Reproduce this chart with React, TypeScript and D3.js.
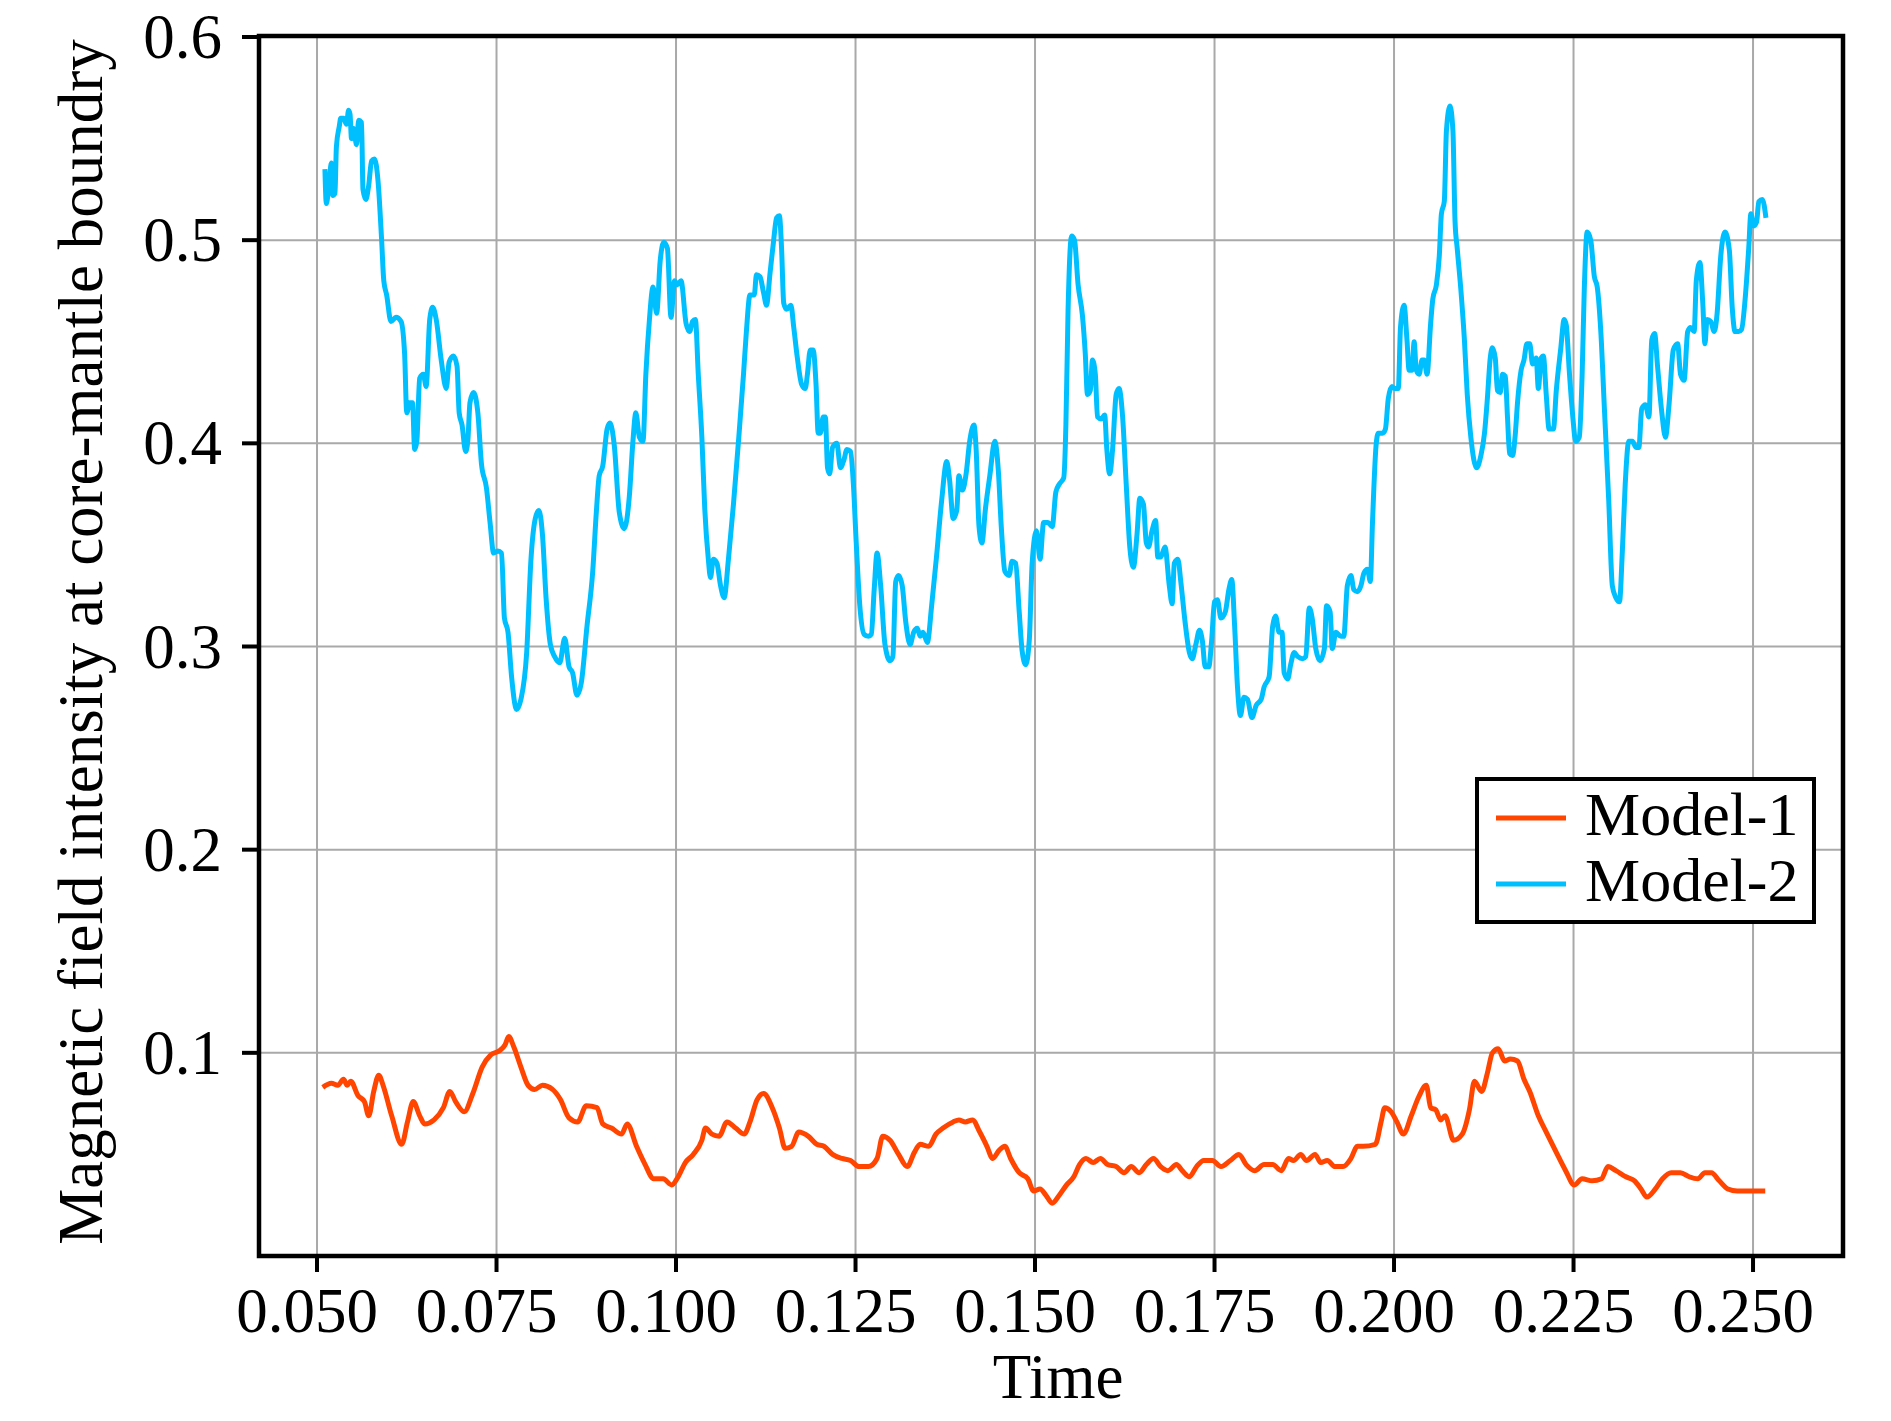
import React from 'react'
import * as d3 from 'd3'

// Model-1 (orange) time / intensity samples
const model1Time = [
  0.0508, 0.0520, 0.0529, 0.0537, 0.0542, 0.0547, 0.0557, 0.0566, 0.0572, 0.0579, 0.0586, 0.0592,
  0.0604, 0.0618, 0.0626, 0.0634, 0.0643, 0.0650, 0.0663, 0.0676, 0.0685, 0.0693, 0.0705, 0.0717,
  0.0730, 0.0742, 0.0754, 0.0762, 0.0767, 0.0774, 0.0784, 0.0794, 0.0803, 0.0814, 0.0828, 0.0839,
  0.0851, 0.0863, 0.0875, 0.0890, 0.0898, 0.0910, 0.0924, 0.0932, 0.0945, 0.0957, 0.0969, 0.0982,
  0.0994, 0.1003, 0.1013, 0.1024, 0.1036, 0.1041, 0.1050, 0.1060, 0.1071, 0.1083, 0.1095, 0.1103,
  0.1113, 0.1122, 0.1134, 0.1144, 0.1152, 0.1161, 0.1171, 0.1184, 0.1196, 0.1206, 0.1218, 0.1231,
  0.1243, 0.1255, 0.1268, 0.1280, 0.1288, 0.1298, 0.1310, 0.1322, 0.1332, 0.1340, 0.1352, 0.1362,
  0.1372, 0.1386, 0.1394, 0.1403, 0.1413, 0.1423, 0.1433, 0.1441, 0.1450, 0.1458, 0.1466, 0.1478,
  0.1490, 0.1498, 0.1507, 0.1515, 0.1524, 0.1534, 0.1544, 0.1554, 0.1562, 0.1571, 0.1581, 0.1591,
  0.1601, 0.1613, 0.1624, 0.1634, 0.1645, 0.1655, 0.1665, 0.1675, 0.1685, 0.1697, 0.1705, 0.1715,
  0.1725, 0.1735, 0.1747, 0.1759, 0.1772, 0.1784, 0.1794, 0.1806, 0.1819, 0.1831, 0.1843, 0.1853,
  0.1860, 0.1870, 0.1878, 0.1890, 0.1898, 0.1907, 0.1918, 0.1929, 0.1940, 0.1949, 0.1957, 0.1974,
  0.1982, 0.1987, 0.1996, 0.2004, 0.2013, 0.2024, 0.2034, 0.2045, 0.2051, 0.2058, 0.2065, 0.2071,
  0.2083, 0.2095, 0.2105, 0.2112, 0.2122, 0.2130, 0.2137, 0.2145, 0.2154, 0.2162, 0.2172, 0.2181,
  0.2189, 0.2201, 0.2212, 0.2226, 0.2239, 0.2251, 0.2262, 0.2276, 0.2289, 0.2298, 0.2309, 0.2323,
  0.2335, 0.2344, 0.2352, 0.2364, 0.2374, 0.2386, 0.2399, 0.2411, 0.2423, 0.2433, 0.2442, 0.2453,
  0.2465, 0.2478, 0.2495, 0.2508, 0.2517
]
const model1Values = [
  0.083, 0.085, 0.084, 0.087, 0.084, 0.086, 0.079, 0.076, 0.069, 0.081, 0.089, 0.084,
  0.069, 0.055, 0.066, 0.076, 0.069, 0.065, 0.067, 0.073, 0.081, 0.076, 0.071, 0.080,
  0.093, 0.099, 0.101, 0.104, 0.108, 0.103, 0.093, 0.084, 0.082, 0.084, 0.082, 0.077,
  0.068, 0.066, 0.074, 0.073, 0.065, 0.063, 0.060, 0.065, 0.054, 0.045, 0.038, 0.038,
  0.035, 0.039, 0.046, 0.050, 0.057, 0.063, 0.060, 0.059, 0.066, 0.063, 0.060, 0.066,
  0.077, 0.080, 0.073, 0.063, 0.053, 0.054, 0.061, 0.059, 0.055, 0.054, 0.050, 0.048,
  0.047, 0.044, 0.044, 0.048, 0.059, 0.057, 0.050, 0.044, 0.051, 0.055, 0.054, 0.060,
  0.063, 0.066, 0.067, 0.066, 0.067, 0.061, 0.054, 0.048, 0.052, 0.054, 0.048, 0.041,
  0.038, 0.032, 0.033, 0.030, 0.026, 0.030, 0.035, 0.039, 0.045, 0.048, 0.046, 0.048,
  0.045, 0.044, 0.041, 0.044, 0.041, 0.045, 0.048, 0.044, 0.042, 0.045, 0.042, 0.039,
  0.044, 0.047, 0.047, 0.044, 0.047, 0.050, 0.045, 0.042, 0.045, 0.045, 0.042, 0.048,
  0.047, 0.050, 0.047, 0.050, 0.046, 0.047, 0.044, 0.044, 0.048, 0.054, 0.054, 0.055,
  0.066, 0.073, 0.071, 0.066, 0.060, 0.069, 0.078, 0.084, 0.073, 0.072, 0.067, 0.069,
  0.057, 0.060, 0.072, 0.086, 0.081, 0.090, 0.100, 0.102, 0.096, 0.097, 0.096, 0.087,
  0.081, 0.069, 0.061, 0.051, 0.042, 0.035, 0.038, 0.037, 0.038, 0.044, 0.042, 0.039,
  0.037, 0.033, 0.029, 0.033, 0.038, 0.041, 0.041, 0.039, 0.038, 0.041, 0.041, 0.037,
  0.033, 0.032, 0.032, 0.032, 0.032
]

// Model-2 (blue) time / intensity samples
const model2Time = [
  0.0511, 0.0513, 0.0517, 0.0520, 0.0522, 0.0525, 0.0527, 0.0531, 0.0533, 0.0537, 0.0541, 0.0544,
  0.0546, 0.0548, 0.0551, 0.0555, 0.0558, 0.0562, 0.0564, 0.0568, 0.0572, 0.0576, 0.0580, 0.0585,
  0.0590, 0.0593, 0.0597, 0.0603, 0.0610, 0.0617, 0.0622, 0.0625, 0.0629, 0.0633, 0.0636, 0.0639,
  0.0643, 0.0648, 0.0652, 0.0657, 0.0661, 0.0666, 0.0673, 0.0680, 0.0684, 0.0690, 0.0695, 0.0698,
  0.0702, 0.0707, 0.0710, 0.0713, 0.0718, 0.0724, 0.0729, 0.0736, 0.0741, 0.0746, 0.0752, 0.0757,
  0.0761, 0.0766, 0.0771, 0.0778, 0.0784, 0.0792, 0.0798, 0.0804, 0.0809, 0.0814, 0.0819, 0.0825,
  0.0831, 0.0838, 0.0845, 0.0851, 0.0856, 0.0862, 0.0868, 0.0876, 0.0884, 0.0889, 0.0893, 0.0898,
  0.0904, 0.0908, 0.0914, 0.0921, 0.0928, 0.0935, 0.0940, 0.0944, 0.0949, 0.0954, 0.0958, 0.0963,
  0.0968, 0.0973, 0.0978, 0.0983, 0.0988, 0.0993, 0.0998, 0.1002, 0.1007, 0.1014, 0.1019, 0.1023,
  0.1027, 0.1031, 0.1036, 0.1040, 0.1045, 0.1048, 0.1052, 0.1057, 0.1062, 0.1067, 0.1073, 0.1080,
  0.1087, 0.1094, 0.1098, 0.1103, 0.1109, 0.1112, 0.1117, 0.1122, 0.1126, 0.1131, 0.1136, 0.1140,
  0.1144, 0.1147, 0.1150, 0.1154, 0.1160, 0.1164, 0.1169, 0.1175, 0.1180, 0.1183, 0.1187, 0.1191,
  0.1195, 0.1198, 0.1201, 0.1205, 0.1208, 0.1211, 0.1214, 0.1218, 0.1224, 0.1229, 0.1234, 0.1238,
  0.1243, 0.1247, 0.1251, 0.1256, 0.1262, 0.1268, 0.1272, 0.1276, 0.1280, 0.1285, 0.1291, 0.1298,
  0.1302, 0.1306, 0.1310, 0.1315, 0.1320, 0.1326, 0.1331, 0.1336, 0.1340, 0.1344, 0.1350, 0.1356,
  0.1363, 0.1370, 0.1377, 0.1381, 0.1386, 0.1391, 0.1394, 0.1399, 0.1404, 0.1409, 0.1415, 0.1418,
  0.1422, 0.1426, 0.1431, 0.1437, 0.1444, 0.1449, 0.1453, 0.1458, 0.1464, 0.1468, 0.1473, 0.1478,
  0.1482, 0.1487, 0.1492, 0.1496, 0.1502, 0.1507, 0.1512, 0.1518, 0.1524, 0.1529, 0.1534, 0.1540,
  0.1543, 0.1546, 0.1551, 0.1555, 0.1560, 0.1566, 0.1570, 0.1573, 0.1577, 0.1580, 0.1584, 0.1587,
  0.1592, 0.1597, 0.1600, 0.1604, 0.1608, 0.1613, 0.1617, 0.1622, 0.1627, 0.1632, 0.1637, 0.1642,
  0.1646, 0.1651, 0.1655, 0.1658, 0.1663, 0.1668, 0.1671, 0.1675, 0.1681, 0.1687, 0.1691, 0.1694,
  0.1699, 0.1703, 0.1709, 0.1715, 0.1719, 0.1724, 0.1729, 0.1733, 0.1737, 0.1742, 0.1746, 0.1750,
  0.1754, 0.1759, 0.1765, 0.1770, 0.1774, 0.1778, 0.1782, 0.1786, 0.1791, 0.1796, 0.1802, 0.1808,
  0.1815, 0.1819, 0.1826, 0.1831, 0.1835, 0.1840, 0.1844, 0.1847, 0.1852, 0.1856, 0.1861, 0.1866,
  0.1873, 0.1877, 0.1882, 0.1886, 0.1891, 0.1897, 0.1903, 0.1906, 0.1911, 0.1914, 0.1919, 0.1926,
  0.1930, 0.1935, 0.1940, 0.1944, 0.1949, 0.1954, 0.1958, 0.1963, 0.1967, 0.1970, 0.1975, 0.1978,
  0.1984, 0.1988, 0.1992, 0.1997, 0.2001, 0.2006, 0.2009, 0.2014, 0.2018, 0.2021, 0.2025, 0.2028,
  0.2031, 0.2035, 0.2039, 0.2042, 0.2046, 0.2051, 0.2054, 0.2059, 0.2063, 0.2066, 0.2070, 0.2073,
  0.2078, 0.2082, 0.2085, 0.2088, 0.2093, 0.2098, 0.2102, 0.2107, 0.2115, 0.2121, 0.2126, 0.2130,
  0.2134, 0.2137, 0.2141, 0.2144, 0.2148, 0.2151, 0.2155, 0.2158, 0.2161, 0.2165, 0.2169, 0.2172,
  0.2177, 0.2181, 0.2185, 0.2189, 0.2193, 0.2198, 0.2201, 0.2205, 0.2208, 0.2212, 0.2216, 0.2222,
  0.2226, 0.2232, 0.2237, 0.2240, 0.2244, 0.2249, 0.2253, 0.2258, 0.2262, 0.2265, 0.2269, 0.2274,
  0.2279, 0.2283, 0.2288, 0.2293, 0.2299, 0.2304, 0.2309, 0.2314, 0.2318, 0.2322, 0.2327, 0.2332,
  0.2337, 0.2341, 0.2345, 0.2350, 0.2355, 0.2359, 0.2363, 0.2367, 0.2373, 0.2378, 0.2383, 0.2389,
  0.2395, 0.2399, 0.2404, 0.2409, 0.2413, 0.2418, 0.2421, 0.2426, 0.2430, 0.2433, 0.2436, 0.2441,
  0.2446, 0.2450, 0.2455, 0.2461, 0.2467, 0.2471, 0.2475, 0.2480, 0.2484, 0.2489, 0.2494, 0.2497,
  0.2501, 0.2505, 0.2508, 0.2513, 0.2518
]
const model2Values = [
  0.535, 0.518, 0.529, 0.538, 0.522, 0.523, 0.546, 0.556, 0.560, 0.560, 0.557, 0.564,
  0.562, 0.550, 0.555, 0.547, 0.559, 0.558, 0.525, 0.520, 0.527, 0.539, 0.540, 0.529,
  0.500, 0.480, 0.473, 0.460, 0.462, 0.460, 0.444, 0.415, 0.420, 0.420, 0.397, 0.401,
  0.432, 0.434, 0.428, 0.461, 0.467, 0.461, 0.441, 0.427, 0.440, 0.443, 0.438, 0.415,
  0.409, 0.396, 0.401, 0.420, 0.425, 0.415, 0.390, 0.378, 0.361, 0.346, 0.347, 0.346,
  0.314, 0.307, 0.285, 0.269, 0.274, 0.297, 0.343, 0.363, 0.367, 0.355, 0.324, 0.301,
  0.295, 0.292, 0.304, 0.290, 0.287, 0.276, 0.282, 0.310, 0.337, 0.366, 0.384, 0.389,
  0.407, 0.410, 0.399, 0.366, 0.358, 0.374, 0.401, 0.415, 0.403, 0.401, 0.434, 0.461,
  0.477, 0.464, 0.490, 0.499, 0.496, 0.462, 0.480, 0.478, 0.480, 0.459, 0.455, 0.460,
  0.461, 0.434, 0.403, 0.368, 0.343, 0.334, 0.343, 0.341, 0.330, 0.324, 0.343, 0.370,
  0.401, 0.434, 0.455, 0.473, 0.473, 0.483, 0.482, 0.474, 0.468, 0.484, 0.500, 0.511,
  0.512, 0.496, 0.469, 0.466, 0.468, 0.457, 0.442, 0.429, 0.427, 0.434, 0.446, 0.446,
  0.429, 0.405, 0.405, 0.413, 0.413, 0.388, 0.385, 0.398, 0.400, 0.388, 0.392, 0.397,
  0.396, 0.380, 0.351, 0.320, 0.306, 0.305, 0.306, 0.328, 0.346, 0.330, 0.301, 0.293,
  0.295, 0.332, 0.335, 0.330, 0.312, 0.301, 0.307, 0.309, 0.305, 0.307, 0.302, 0.320,
  0.345, 0.372, 0.391, 0.382, 0.363, 0.367, 0.384, 0.377, 0.385, 0.401, 0.409, 0.397,
  0.359, 0.351, 0.368, 0.384, 0.401, 0.386, 0.359, 0.337, 0.335, 0.342, 0.341, 0.317,
  0.298, 0.291, 0.303, 0.341, 0.357, 0.343, 0.361, 0.361, 0.359, 0.376, 0.380, 0.383,
  0.409, 0.465, 0.502, 0.500, 0.478, 0.463, 0.444, 0.424, 0.426, 0.441, 0.434, 0.413,
  0.412, 0.414, 0.397, 0.385, 0.397, 0.424, 0.427, 0.413, 0.380, 0.349, 0.339, 0.355,
  0.373, 0.370, 0.351, 0.349, 0.357, 0.362, 0.344, 0.344, 0.349, 0.330, 0.321, 0.341,
  0.343, 0.332, 0.312, 0.297, 0.294, 0.301, 0.308, 0.303, 0.290, 0.290, 0.303, 0.322,
  0.323, 0.314, 0.317, 0.328, 0.333, 0.310, 0.280, 0.266, 0.275, 0.274, 0.265, 0.271,
  0.274, 0.280, 0.285, 0.310, 0.315, 0.307, 0.307, 0.287, 0.284, 0.291, 0.297, 0.295,
  0.294, 0.295, 0.319, 0.314, 0.299, 0.293, 0.299, 0.320, 0.317, 0.299, 0.307, 0.305,
  0.305, 0.330, 0.335, 0.328, 0.327, 0.330, 0.336, 0.338, 0.332, 0.361, 0.399, 0.405,
  0.405, 0.407, 0.422, 0.428, 0.427, 0.427, 0.457, 0.468, 0.451, 0.436, 0.436, 0.450,
  0.436, 0.434, 0.441, 0.441, 0.434, 0.459, 0.471, 0.478, 0.492, 0.513, 0.519, 0.554,
  0.566, 0.554, 0.509, 0.496, 0.476, 0.451, 0.424, 0.403, 0.388, 0.394, 0.405, 0.422,
  0.442, 0.447, 0.442, 0.426, 0.425, 0.434, 0.433, 0.413, 0.395, 0.394, 0.405, 0.420,
  0.436, 0.441, 0.449, 0.449, 0.439, 0.442, 0.427, 0.442, 0.443, 0.424, 0.407, 0.407,
  0.426, 0.446, 0.461, 0.458, 0.436, 0.413, 0.401, 0.403, 0.434, 0.476, 0.504, 0.500,
  0.482, 0.477, 0.455, 0.417, 0.372, 0.330, 0.324, 0.322, 0.347, 0.380, 0.401, 0.401,
  0.398, 0.398, 0.417, 0.419, 0.413, 0.451, 0.454, 0.438, 0.415, 0.403, 0.419, 0.446,
  0.449, 0.434, 0.431, 0.455, 0.457, 0.455, 0.480, 0.489, 0.469, 0.449, 0.461, 0.460,
  0.455, 0.464, 0.492, 0.504, 0.495, 0.467, 0.455, 0.455, 0.456, 0.471, 0.496, 0.513,
  0.507, 0.509, 0.519, 0.520, 0.511
]

const xTicks = [0.05, 0.075, 0.1, 0.125, 0.15, 0.175, 0.2, 0.225, 0.25]
const yTicks = [0.1, 0.2, 0.3, 0.4, 0.5, 0.6]

const seriesNames = ['Model-1', 'Model-2']
const seriesColors = ['#ff4500', '#00bfff']

const W = 1891
const H = 1421
const plot = { left: 259, right: 1843, top: 36, bottom: 1256 }
const font = '"Liberation Serif", "Times New Roman", serif'
const fs = 63

export default function App() {
  const x = d3.scaleLinear().domain([0.04192, 0.26253]).range([plot.left, plot.right])
  const y = d3.scaleLinear().domain([0, 0.6]).range([plot.bottom, 37])

  const line = d3.line<[number, number]>()
    .x(d => x(d[0]))
    .y(d => y(d[1]))
    .curve(d3.curveMonotoneX)

  const s1 = model1Time.map((t, i) => [t, model1Values[i]] as [number, number])
  const s2 = model2Time.map((t, i) => [t, model2Values[i]] as [number, number])

  const legend = { x: 1477, y: 779, w: 337, h: 143 }

  return (
    <svg width={W} height={H} style={{ position: 'absolute', left: 0, top: 0, background: '#fff' }}
      fontFamily={font}>
      {/* grid */}
      {xTicks.map(t => (
        <line key={'gx' + t} x1={x(t)} x2={x(t)} y1={plot.top} y2={plot.bottom}
          stroke="#a9a9a9" strokeWidth={2} />
      ))}
      {yTicks.map(t => (
        <line key={'gy' + t} x1={plot.left} x2={plot.right} y1={y(t)} y2={y(t)}
          stroke="#a9a9a9" strokeWidth={2} />
      ))}

      {/* series */}
      <path d={line(s1) || ''} fill="none" stroke={seriesColors[0]} strokeWidth={5} strokeLinejoin="round" />
      <path d={line(s2) || ''} fill="none" stroke={seriesColors[1]} strokeWidth={5} strokeLinejoin="round" />

      {/* frame */}
      <rect x={plot.left} y={plot.top} width={plot.right - plot.left} height={plot.bottom - plot.top}
        fill="none" stroke="#000" strokeWidth={4.5} />

      {/* x axis */}
      {xTicks.map(t => (
        <g key={'tx' + t}>
          <line x1={x(t)} x2={x(t)} y1={plot.bottom} y2={plot.bottom + 16} stroke="#000" strokeWidth={4} />
          <text x={x(t) - 10} y={1332} textAnchor="middle" fontSize={fs}>{d3.format('.3f')(t)}</text>
        </g>
      ))}
      {/* y axis */}
      {yTicks.map(t => (
        <g key={'ty' + t}>
          <line x1={plot.left - 17} x2={plot.left} y1={y(t)} y2={y(t)} stroke="#000" strokeWidth={4} />
          <text x={222} y={y(t) + 21} textAnchor="end" fontSize={fs}>{d3.format('.1f')(t)}</text>
        </g>
      ))}

      <text x={1058} y={1398} textAnchor="middle" fontSize={fs}>Time</text>
      <text transform={`translate(102,642) rotate(-90)`} textAnchor="middle" fontSize={fs}>
        Magnetic field intensity at core-mantle boundry
      </text>

      {/* legend */}
      <rect x={legend.x} y={legend.y} width={legend.w} height={legend.h} fill="#fff" stroke="#000" strokeWidth={4} />
      {seriesNames.map((name, i) => (
        <g key={name}>
          <line x1={1496} x2={1566} y1={818 + i * 66} y2={818 + i * 66} stroke={seriesColors[i]} strokeWidth={5} />
          <text x={1585} y={835 + i * 66} fontSize={62}>{name}</text>
        </g>
      ))}
    </svg>
  )
}
